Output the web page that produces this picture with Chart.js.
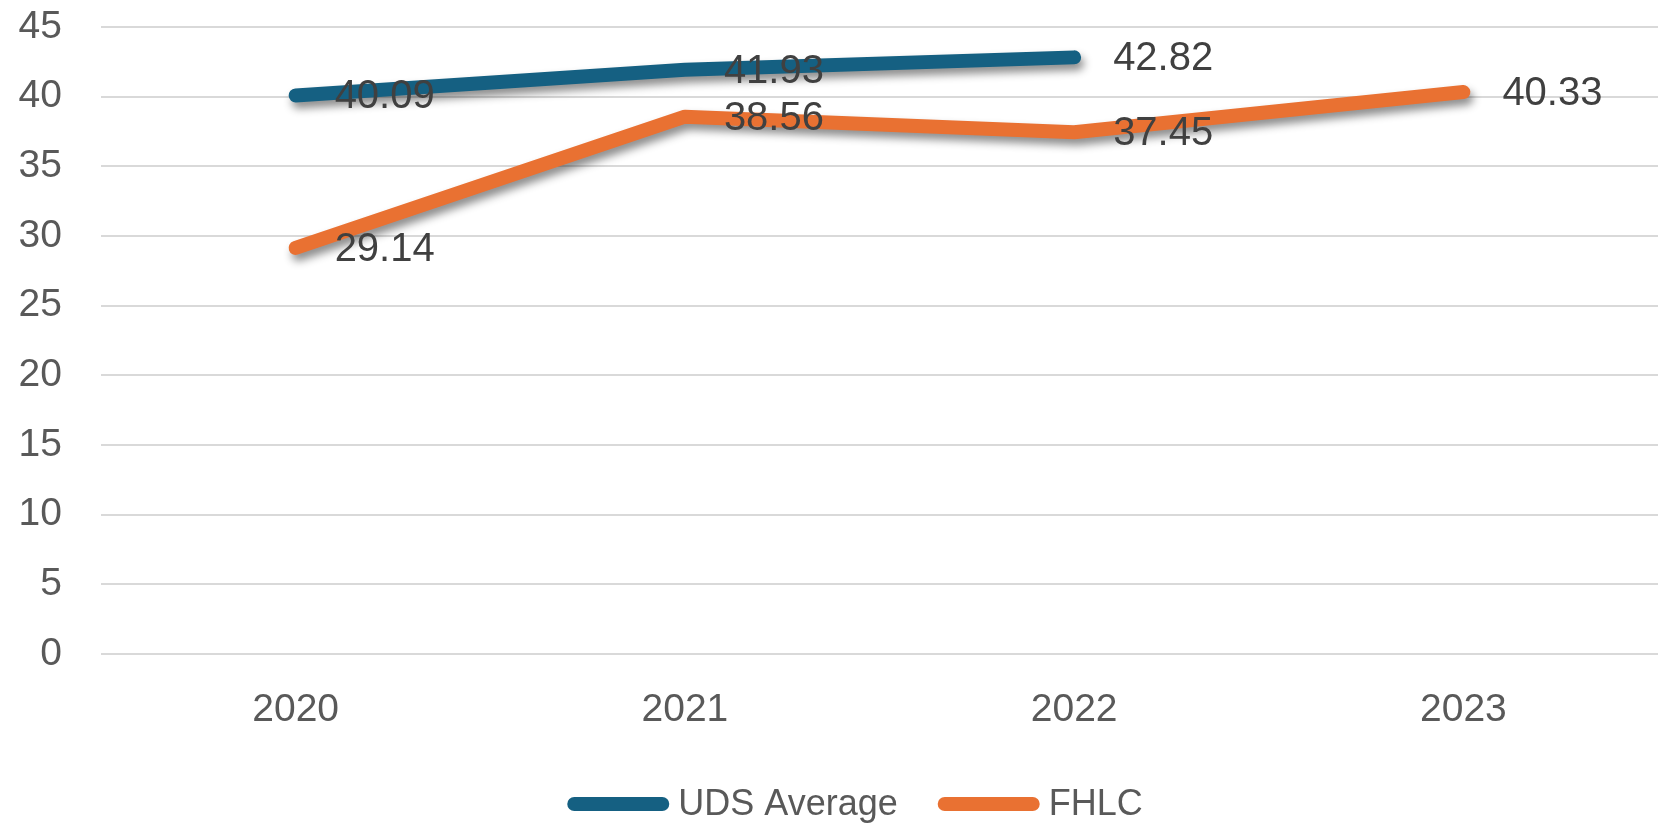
<!DOCTYPE html>
<html>
<head>
<meta charset="utf-8">
<script src="https://cdn.jsdelivr.net/npm/chart.js@4.4.1/dist/chart.umd.min.js"></script>
<style>
  html, body { margin: 0; padding: 0; background: #ffffff; }
  #wrap { width: 1658px; height: 827px; }
</style>
</head>
<body>
<div id="wrap"><canvas id="myChart"></canvas></div>
<script>
var years = ['2020', '2021', '2022', '2023'];
var udsAverage = [40.09, 41.93, 42.82, null];
var fhlc = [29.14, 38.56, 37.45, 40.33];
var yTicks = [0, 5, 10, 15, 20, 25, 30, 35, 40, 45];

var blue = '#156082';
var orange = '#e97132';
var textGrey = '#595959';
var fontFamily = '"Liberation Sans", Arial, sans-serif';

// soft shadow under each line, like the office chart
var lineShadow = {
    id: 'lineShadow',
    beforeDatasetDraw: function (chart) {
        var ctx = chart.ctx;
        ctx.save();
        ctx.shadowColor = 'rgba(0, 0, 0, 0.45)';
        ctx.shadowBlur = 9;
        ctx.shadowOffsetX = 3;
        ctx.shadowOffsetY = 6;
    },
    afterDatasetDraw: function (chart) {
        chart.ctx.restore();
    }
};

// value labels to the right of every point
var valueLabels = {
    id: 'valueLabels',
    afterDatasetsDraw: function (chart) {
        var ctx = chart.ctx;
        ctx.save();
        ctx.font = '40px ' + fontFamily;
        ctx.fillStyle = '#404040';
        ctx.textAlign = 'left';
        ctx.textBaseline = 'middle';
        chart.data.datasets.forEach(function (ds, i) {
            var meta = chart.getDatasetMeta(i);
            meta.data.forEach(function (pt, j) {
                var v = ds.data[j];
                if (v === null || v === undefined) return;
                ctx.fillText(v.toFixed(2), pt.x + 39, pt.y + 2);
            });
        });
        ctx.restore();
    }
};

// legend drawn at the bottom: rounded line swatch + name, tight spacing
var bottomLegend = {
    id: 'bottomLegend',
    afterDraw: function (chart) {
        var ctx = chart.ctx;
        var boxW = 102, boxH = 14, gap = 9, itemGap = 40;
        var y = 804;
        ctx.save();
        ctx.font = '36px ' + fontFamily;
        var items = chart.data.datasets.map(function (ds) {
            return { text: ds.label, color: ds.borderColor, w: ctx.measureText(ds.label).width };
        });
        var total = 0;
        items.forEach(function (it, i) {
            total += boxW + gap + it.w + (i < items.length - 1 ? itemGap : 0);
        });
        var x = chart.width / 2 + 26 - total / 2;
        ctx.textBaseline = 'middle';
        ctx.textAlign = 'left';
        items.forEach(function (it) {
            ctx.fillStyle = it.color;
            ctx.beginPath();
            ctx.roundRect(x, y - boxH / 2, boxW, boxH, boxH / 2);
            ctx.fill();
            x += boxW + gap;
            ctx.fillStyle = textGrey;
            ctx.fillText(it.text, x, y + 1);
            x += it.w + itemGap;
        });
        ctx.restore();
    }
};

var ctx = document.getElementById('myChart');
var myChart = new Chart(ctx, {
    type: 'line',
    data: {
        labels: years,
        datasets: [{
            label: 'UDS Average',
            data: udsAverage,
            borderColor: blue,
            backgroundColor: blue,
            borderWidth: 14,
            borderCapStyle: 'round',
            borderJoinStyle: 'round',
            pointRadius: 0,
            tension: 0,
            spanGaps: false
        }, {
            label: 'FHLC',
            data: fhlc,
            borderColor: orange,
            backgroundColor: orange,
            borderWidth: 14,
            borderCapStyle: 'round',
            borderJoinStyle: 'round',
            pointRadius: 0,
            tension: 0
        }]
    },
    options: {
        responsive: true,
        maintainAspectRatio: false,
        animation: false,
        layout: {
            padding: { left: 0, right: 0, top: 27, bottom: 96 }
        },
        plugins: {
            tooltip: { enabled: false },
            legend: { display: false }
        },
        scales: {
            x: {
                offset: true,
                grid: { display: false },
                border: { display: false },
                afterFit: function (axis) {
                    axis.height = 77;
                    axis.paddingLeft = 0;
                    axis.paddingRight = 0;
                },
                ticks: {
                    color: textGrey,
                    padding: 25,
                    font: { family: fontFamily, size: 39 }
                }
            },
            y: {
                min: 0,
                max: 45,
                afterBuildTicks: function (axis) {
                    axis.ticks = yTicks.map(function (v) { return { value: v }; });
                },
                afterFit: function (axis) {
                    axis.width = 101;
                    axis.paddingTop = 0;
                    axis.paddingBottom = 0;
                },
                grid: { color: '#d9d9d9', lineWidth: 2, drawTicks: false },
                border: { display: false },
                ticks: {
                    color: textGrey,
                    padding: 39,
                    font: { family: fontFamily, size: 39 }
                }
            }
        }
    },
    plugins: [lineShadow, valueLabels, bottomLegend]
});
</script>
</body>
</html>
